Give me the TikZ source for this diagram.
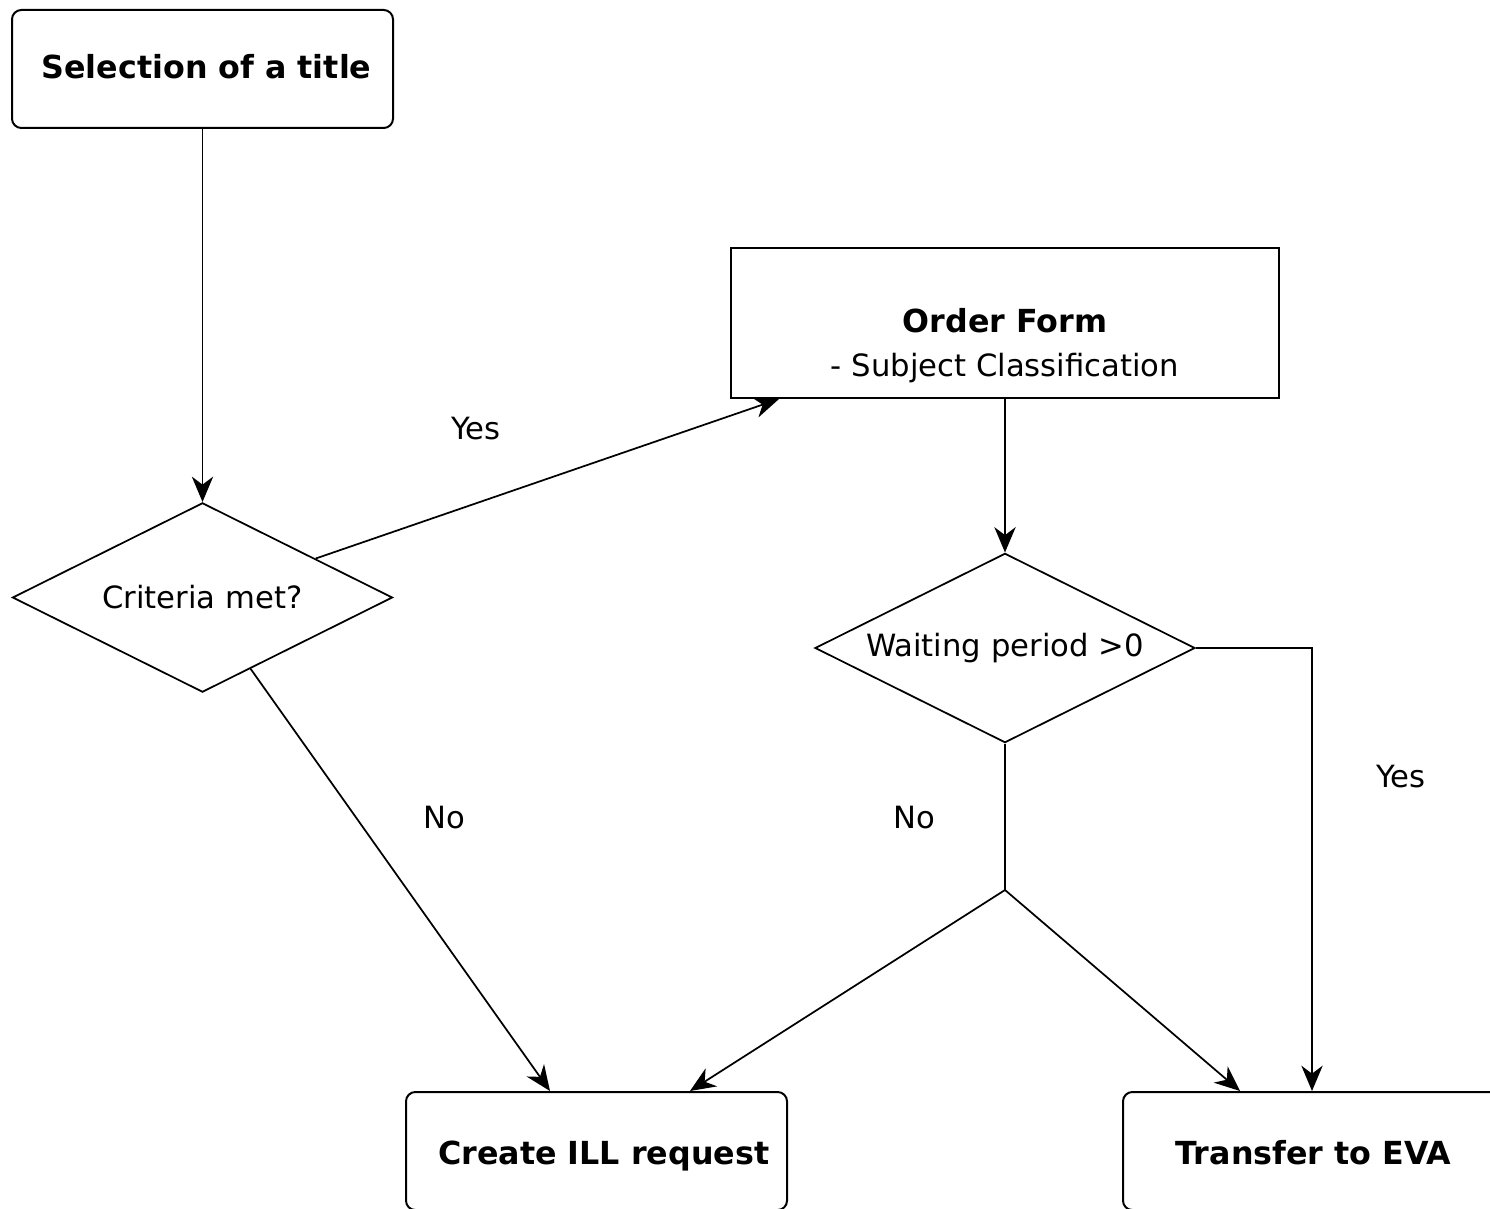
\documentclass[tikz,border=0pt]{standalone}
\usepackage{fontspec}
\setmainfont{DejaVu Sans}
\usetikzlibrary{shapes.geometric,arrows.meta,calc}

\tikzset{every picture/.style={line width=1.3pt}}
\tikzset{
  titlebox/.style={draw, line width=1.5pt, rounded corners=7pt, minimum width=285.75pt, minimum height=88.5pt, inner sep=0pt, font=\fontsize{23.8}{33}\selectfont\bfseries},
  formbox/.style={draw, line width=1.5pt, minimum width=411pt, minimum height=112.5pt, inner sep=0pt, align=center, font=\fontsize{23}{33}\selectfont},
  decision/.style={draw, diamond, aspect=2, minimum width=285pt, minimum height=142pt, inner sep=0pt, font=\fontsize{23}{33}\selectfont},
  lbl/.style={inner sep=0.75pt, font=\fontsize{23}{33}\selectfont}
}

\begin{document}
\begin{tikzpicture}[x=0.75pt,y=0.75pt,yscale=-1,xscale=1, >={Stealth[length=19pt,width=16pt,inset=6pt]}]
\useasboundingbox (0,0) rectangle (1490,1209);

%Shapes
\node[titlebox] (sel) at (202.5,69) {\raisebox{2pt}[\height][\depth]{\hspace*{6pt}Selection of a title}};
\node[decision] (crit) at (202.5,597.5) {Criteria met?};
\node[formbox] (order) at (1005,323) {\rule{0pt}{18.6pt}\\\textbf{\fontsize{23.8}{33}\selectfont Order Form}\\- Subject Classification};
\node[decision] (wait) at (1005,648) {Waiting period >0};
\node[titlebox] (ill) at (596.5,1151) {\raisebox{-3.75pt}[\height][\depth]{\hspace*{11pt}Create ILL request}};
\node[titlebox] (trans) at (1313.5,1151) {\raisebox{-1.5pt}[\height][\depth]{Transfer to EVA}};

%Connectors
\draw[->] (sel) -- (crit);
\draw[->] (crit.19) -- ($(order.south west)+(49,0)$);
\draw[->] (crit.-56) -- ($(ill.north west)+(145,0)$);
\draw[->] (order.south) -- (wait.north);
\coordinate (split) at (1005,890);
\draw (wait.south) -- (split);
\draw[->] (split) -- ($(ill.north)+(93.5,0)$);
\draw[->] (split) -- ($(trans.north)+(-73.5,0)$);
\draw[->] (wait.east) -| ($(trans.north)+(-1.5,0)$);

% Text Node
\node[lbl] (yesA) at (476,429) {Yes};
% Text Node
\node[lbl] (noA) at (444,818) {No};
% Text Node
\node[lbl] (noB) at (914,818) {No};
% Text Node
\node[lbl] (yesB) at (1401,777) {Yes};

\end{tikzpicture}
\end{document}
